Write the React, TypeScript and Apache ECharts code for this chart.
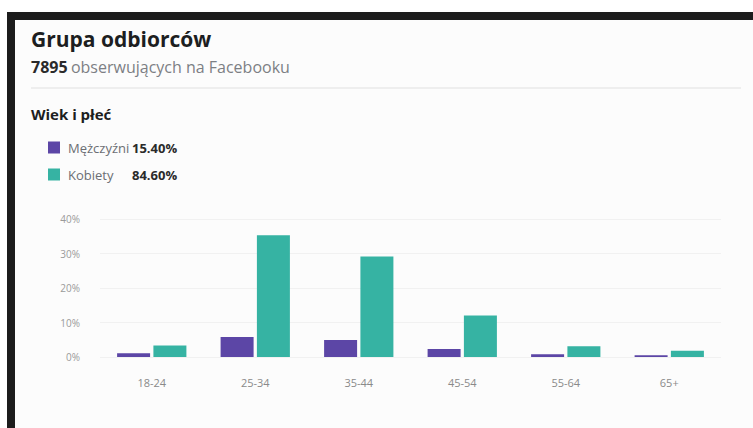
import React, { useEffect, useRef } from "react";
import * as echarts from "echarts";

const categories = ["18-24", "25-34", "35-44", "45-54", "55-64", "65+"];
const maleValues = [1.1, 5.8, 4.9, 2.3, 0.8, 0.5];
const femaleValues = [3.3, 35.3, 29.1, 12.0, 3.1, 1.8];
const seriesNames = ["Mężczyźni", "Kobiety"];
const seriesShares = ["15.40%", "84.60%"];
const yTicks = { min: 0, max: 40, interval: 10 };
const followers = "7895";

const FONT = "'Open Sans', 'Noto Sans', sans-serif";

export default function App() {
  const ref = useRef<HTMLDivElement>(null);
  useEffect(() => {
    if (!ref.current) return;
    const chart = echarts.init(ref.current, undefined, { renderer: "svg" });
    const shareOf: Record<string, string> = {};
    seriesNames.forEach((n, i) => (shareOf[n] = seriesShares[i]));
    chart.setOption({
      animation: false,
      backgroundColor: "#ffffff",
      textStyle: { fontFamily: FONT },
      graphic: [
        { type: "rect", shape: { x: 15, y: 20, width: 738, height: 408 }, style: { fill: "#fcfcfc" }, silent: true, z: -10 },
        { type: "rect", shape: { x: 7, y: 12, width: 746, height: 8 }, style: { fill: "#1c1c1c" }, silent: true },
        { type: "rect", shape: { x: 7, y: 12, width: 8, height: 416 }, style: { fill: "#1c1c1c" }, silent: true },
        {
          type: "text", left: 31, top: 28,
          style: { text: "Grupa odbiorców", font: `bold 21px ${FONT}`, fill: "#1c1e21" },
        },
        {
          type: "text", left: 31, top: 59,
          style: {
            text: `{b|${followers}} {g|obserwujących na Facebooku}`,
            rich: {
              b: { font: `bold 16px ${FONT}`, fill: "#2a2a2a" },
              g: { font: `16px ${FONT}`, fill: "#7c7f84" },
            },
          },
        },
        { type: "line", shape: { x1: 31, y1: 88, x2: 741, y2: 88 }, style: { stroke: "#eeeeee", lineWidth: 2 }, silent: true },
        {
          type: "text", left: 31, top: 106,
          style: { text: "Wiek i płeć", font: `bold 15px ${FONT}`, fill: "#1c1e21" },
        },
      ],
      legend: {
        orient: "vertical",
        left: 48,
        top: 141,
        padding: 0,
        itemWidth: 12,
        itemHeight: 12,
        itemGap: 14,
        icon: "rect",
        data: seriesNames,
        formatter: (name: string) => `{n|${name}}{v|${shareOf[name]}}`,
        textStyle: {
          padding: [0, 0, 0, 3],
          rich: {
            n: { fontFamily: FONT, fontSize: 13, color: "#6b6e73", width: 64 },
            v: { fontFamily: FONT, fontSize: 13, color: "#2a2a2a", fontWeight: "bold" },
          },
        },
      },
      grid: { left: 100, right: 32, top: 219, bottom: 71, containLabel: false },
      xAxis: {
        type: "category",
        data: categories,
        axisLine: { show: false },
        axisTick: { show: false },
        axisLabel: { color: "#8a8a8a", fontSize: 11, margin: 20, fontFamily: FONT },
      },
      yAxis: {
        type: "value",
        min: yTicks.min,
        max: yTicks.max,
        interval: yTicks.interval,
        axisLabel: { formatter: "{value}%", color: "#9a9a9a", fontSize: 10, margin: 20, fontFamily: FONT },
        splitLine: { lineStyle: { color: "#f1f1f1", width: 1 } },
        axisLine: { show: false },
        axisTick: { show: false },
      },
      series: [
        {
          name: seriesNames[0], type: "bar", data: maleValues,
          barWidth: 33, barGap: "10%",
          itemStyle: { color: "#5c46a6" },
        },
        {
          name: seriesNames[1], type: "bar", data: femaleValues,
          barWidth: 33,
          itemStyle: { color: "#36b3a3" },
        },
      ],
    });
    return () => chart.dispose();
  }, []);
  return (
    <div
      ref={ref}
      style={{ position: "fixed", left: 0, top: 0, width: 753, height: 428 }}
    />
  );
}
